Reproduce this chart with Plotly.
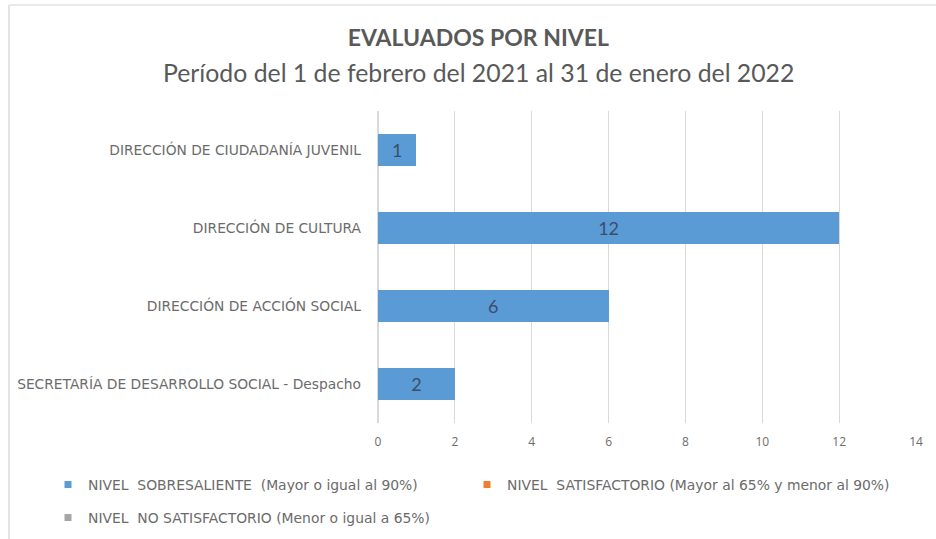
import plotly.graph_objects as go

# Categories (top to bottom as displayed)
categorias = [
    "DIRECCIÓN DE CIUDADANÍA JUVENIL",
    "DIRECCIÓN DE CULTURA",
    "DIRECCIÓN DE ACCIÓN SOCIAL",
    "SECRETARÍA DE DESARROLLO SOCIAL - Despacho",
]
sobresaliente = [1, 12, 6, 2]
satisfactorio = [0, 0, 0, 0]
no_satisfactorio = [0, 0, 0, 0]

series_nombres = [
    "NIVEL  SOBRESALIENTE  (Mayor o igual al 90%)",
    "NIVEL  SATISFACTORIO (Mayor al 65% y menor al 90%)",
    "NIVEL  NO SATISFACTORIO (Menor o igual a 65%)",
]
colores = ["#5B9BD5", "#ED7D31", "#A5A5A5"]
x_ticks = [0, 2, 4, 6, 8, 10, 12, 14]

FONT = "DejaVu Sans"
GRAY = "#595959"
LIGHT = "#6b6b6b"

fig = go.Figure()

valores = [sobresaliente, satisfactorio, no_satisfactorio]
for i, (nombre, vals, col) in enumerate(zip(series_nombres, valores, colores)):
    fig.add_trace(go.Bar(
        y=categorias,
        x=vals,
        orientation="h",
        name=nombre,
        marker=dict(color=col, line=dict(width=0)),
        text=[str(v) for v in vals] if i == 0 else None,
        textposition="inside",
        insidetextanchor="middle",
        textfont=dict(family="Lato", size=18, color="#3B4D6B"),
        showlegend=False,
        hoverinfo="x+y",
    ))

# Small square legend keys, one legend box per entry
legend_ids = ["legend", "legend2", "legend3"]
for nombre, col, lg in zip(series_nombres, colores, legend_ids):
    fig.add_trace(go.Scatter(
        x=[None], y=[None], mode="markers", name=nombre,
        marker=dict(symbol="square", size=7, color=col),
        showlegend=True, legend=lg,
    ))

leg_common = dict(
    orientation="h",
    xanchor="left", yanchor="middle",
    itemwidth=30,
    font=dict(family=FONT, size=13.9, color=LIGHT),
    bgcolor="rgba(0,0,0,0)",
)


# plot area: x pixels 378..916, y pixels 111..423
def px_x(p):
    return (p - 378) / 538


def px_y(p):
    return (423 - p) / 312


fig.update_layout(
    width=936,
    height=539,
    margin=dict(l=378, r=20, t=111, b=116, autoexpand=False),
    paper_bgcolor="white",
    plot_bgcolor="white",
    barmode="stack",
    bargap=0.59,
    title=dict(
        text="<b>EVALUADOS POR NIVEL</b>",
        x=0.511, xanchor="center", xref="container",
        y=1 - 38 / 539, yanchor="middle", yref="container",
        font=dict(family="Lato", size=23, color=GRAY),
    ),
    annotations=[
        dict(
            text="Período del 1 de febrero del 2021 al 31 de enero del 2022",
            xref="paper", yref="paper", x=px_x(478), y=px_y(72),
            xanchor="center", yanchor="middle", showarrow=False,
            font=dict(family="Lato", size=24.8, color=GRAY),
        )
    ],
    xaxis=dict(
        range=[0, 14],
        tickvals=x_ticks,
        showgrid=True,
        gridcolor="#D9D9D9",
        gridwidth=1,
        zeroline=True,
        zerolinecolor="#D9D9D9",
        showline=False,
        ticks="",
        ticklabelstandoff=10,
        tickfont=dict(family="Open Sans", size=12, color=LIGHT),
        fixedrange=True,
    ),
    yaxis=dict(
        categoryorder="array",
        categoryarray=categorias[::-1],
        showgrid=False,
        ticks="",
        ticklabelstandoff=16,
        tickfont=dict(family=FONT, size=13.8, color=LIGHT),
        fixedrange=True,
    ),
    legend=dict(leg_common, x=px_x(48), y=px_y(485)),
    legend2=dict(leg_common, x=px_x(467), y=px_y(485)),
    legend3=dict(leg_common, x=px_x(48), y=px_y(518)),
    shapes=[
        dict(type="line", xref="paper", yref="paper",
             x0=px_x(9), x1=px_x(9), y0=px_y(5), y1=px_y(539),
             line=dict(color="#E3E3E3", width=2)),
        dict(type="line", xref="paper", yref="paper",
             x0=px_x(9), x1=px_x(936), y0=px_y(5), y1=px_y(5),
             line=dict(color="#EAEAEA", width=2)),
    ],
)

fig.write_html("out.html")
